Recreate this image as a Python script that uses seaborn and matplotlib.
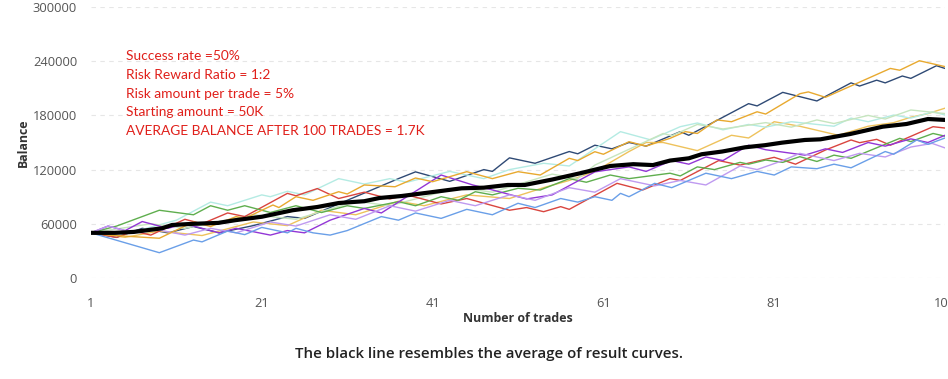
import matplotlib
matplotlib.use("Agg")
import matplotlib.pyplot as plt
import seaborn as sns
import pandas as pd

# ---------------- data ----------------
navy_t = [1, 4, 7, 10, 13, 16, 20, 24, 26, 37, 39, 43, 47, 48, 50, 53, 57, 58, 60, 62, 64, 66, 70, 71, 78, 79, 82, 86, 90, 91, 93, 94, 96, 97, 100, 101]
navy_b = [50000, 45000, 55000, 50000, 57000, 50000, 58000, 68000, 66000, 110000, 117500, 107000, 120000, 118000, 133000, 127000, 140000, 137500, 147000, 143000, 150000, 146000, 162000, 158000, 193000, 190500, 205500, 196000, 216000, 212500, 219000, 216000, 223600, 221000, 235000, 232000]

gold_t = [1, 3, 9, 13, 15, 18, 19, 22.3, 23, 25, 27, 30, 31, 33, 36.6, 39, 41, 45, 48, 51, 53.6, 57, 58, 60, 61, 64, 66, 68.8, 70.6, 72, 74.3, 76, 79, 80, 84, 85, 87, 94.6, 95.7, 98, 101]
gold_b = [50000, 47500, 44000, 62000, 57000, 68000, 66000, 80800, 78000, 90000, 86000, 95500, 93000, 103000, 101000, 110700, 106600, 117700, 110000, 117700, 114000, 132500, 130000, 139800, 137000, 150900, 146000, 154600, 162000, 160000, 175000, 173000, 184000, 181500, 204000, 206000, 200000, 232000, 230000, 240500, 234000]

gold2_t = [1, 5, 9, 14, 20, 24, 28, 32, 37, 40, 45, 50, 54, 57, 60, 64, 66, 68, 72, 76, 78, 81, 84, 88.5, 92, 95, 97, 99, 101]
gold2_b = [50000, 45000, 52000, 47000, 62000, 58000, 75000, 70000, 85000, 80000, 92000, 88000, 100000, 108000, 118000, 140000, 150000, 150000, 141000, 158000, 155000, 173000, 168000, 158000, 168000, 172000, 178000, 182000, 188000]

cyan_t = [1, 4, 11, 15, 17, 21, 22, 24, 26, 30, 33, 36, 38, 43, 47, 50, 54, 57, 63, 66.5, 70, 72, 75, 78, 80, 83, 88, 90, 92, 95, 97, 99.6, 101]
cyan_b = [50000, 46000, 64000, 84000, 80000, 92000, 90000, 96000, 92000, 110000, 104000, 110000, 106000, 118000, 110000, 120000, 127000, 124000, 162000, 153000, 167500, 171600, 164000, 170000, 167000, 173000, 168000, 177000, 173000, 180400, 177000, 184000, 180400]

lgreen_t = [1, 8, 12, 20, 25, 32, 36, 44, 48, 55, 58, 60, 68, 69, 72, 75, 80, 83, 86, 88, 92, 94, 97, 101]
lgreen_b = [50000, 60000, 55000, 70000, 65000, 85000, 80000, 100000, 95000, 115000, 110000, 125000, 160000, 157500, 170000, 165000, 172000, 167000, 175000, 171000, 180000, 176000, 186000, 182000]

red_t = [1, 4, 6, 8, 12, 14, 17, 19, 24, 25, 27.5, 30, 33, 36, 38, 42, 45, 50, 52, 54, 56, 57, 62.6, 65.6, 68.8, 70, 74.5, 77, 81, 83.5, 87, 90, 91, 93, 94.6, 99.6, 101]
red_b = [50000, 45000, 52000, 47500, 65000, 60000, 72000, 68000, 93700, 91000, 99000, 88000, 95000, 87500, 92000, 82000, 88000, 75000, 78000, 73400, 79000, 76000, 104800, 97400, 110000, 108000, 130000, 125000, 133600, 126000, 141700, 152800, 149800, 153500, 147000, 167500, 166000]

green_t = [1, 4, 9, 13, 15, 17, 19, 22, 25, 28, 31, 33, 37, 39, 42, 44, 46, 48, 51, 53.6, 57, 59, 61.8, 64, 68.8, 70, 72, 74, 77, 78, 80, 82, 84, 86, 88, 90, 95.7, 97, 99.6, 101]
green_b = [50000, 57500, 75000, 70000, 80000, 75000, 80000, 72500, 80000, 72500, 80000, 77000, 84500, 80000, 90000, 86000, 95500, 92000, 99300, 97400, 110000, 106000, 114000, 110000, 116000, 113000, 123000, 120000, 128000, 126000, 130600, 128000, 134300, 129000, 136000, 132500, 154600, 151000, 160000, 157000]

purple_t = [1, 3, 5, 7, 10, 12, 16, 18, 22, 24, 26, 29, 33, 35, 42, 45.7, 48, 52, 55, 60, 64, 66, 69, 71, 73, 75, 78, 80, 84.6, 87, 89, 92, 94, 97, 99, 101]
purple_b = [50000, 57500, 52500, 62500, 55000, 60000, 50000, 55000, 47500, 52500, 50000, 64000, 77000, 72000, 114000, 103000, 97500, 87500, 92000, 117500, 123000, 118000, 130000, 126000, 134000, 130000, 147000, 142000, 136000, 143000, 139000, 150000, 146000, 154000, 150000, 158000]

lilac_t = [1, 3, 6, 8, 12, 15, 18, 22, 25, 29, 32, 36, 39, 43, 46, 50, 53, 57, 60, 63, 67, 70, 73, 77, 79, 82, 84, 88, 91, 94, 97, 99.5, 101]
lilac_b = [50000, 57500, 50000, 55000, 47500, 55000, 50000, 62000, 57500, 70000, 65000, 80000, 74000, 86000, 80000, 92000, 86000, 100000, 95000, 110000, 102000, 108000, 103000, 124000, 120000, 130000, 138000, 130000, 138000, 134000, 145000, 149000, 144000]

blue_t = [1, 9, 13, 14, 17, 19, 21, 24, 25, 27, 29, 31, 35, 37, 39, 42, 45, 48, 51, 53, 56, 58, 60, 62, 63, 64, 67, 69, 73, 76, 79, 81, 83, 86, 88, 90, 94, 95, 97.7, 99, 101]
blue_b = [50000, 28000, 42000, 40000, 52000, 48000, 56000, 50000, 55000, 50000, 47500, 52500, 68000, 64000, 72000, 66000, 76000, 70000, 82700, 78000, 88000, 84000, 90000, 86000, 93700, 90000, 104800, 100000, 116000, 110000, 118000, 114000, 123000, 121000, 126000, 122000, 140000, 137000, 152800, 148000, 155000]

avg_t = [1, 3.8, 6, 9.3, 10.5, 13, 15.9, 17.9, 21, 24.6, 27.5, 30, 33, 34.8, 37.4, 41.3, 44.4, 47, 49.8, 51.8, 55, 58.3, 61.8, 64.5, 66.8, 68.8, 71, 72.5, 74.9, 77.6, 79.9, 81.9, 84.6, 86.4, 89.9, 93.7, 96.5, 99, 101]
avg_b = [50000, 50000, 51000, 55000, 58700, 60000, 61000, 64000, 67800, 75000, 78600, 83000, 85000, 88600, 90800, 95500, 99300, 100000, 103000, 103000, 109000, 116000, 124000, 126000, 125000, 130000, 132500, 137000, 140000, 144700, 147000, 149800, 152800, 153500, 159400, 167500, 170500, 176000, 175000]

series = {
    "navy": (navy_t, navy_b, "#2f4a75"),
    "gold2": (gold2_t, gold2_b, "#eec25c"),
    "cyan": (cyan_t, cyan_b, "#b4ebe3"),
    "lgreen": (lgreen_t, lgreen_b, "#c6e5bf"),
    "red": (red_t, red_b, "#d9453f"),
    "green": (green_t, green_b, "#5fae4e"),
    "purple": (purple_t, purple_b, "#9336d6"),
    "lilac": (lilac_t, lilac_b, "#bf9af0"),
    "blue": (blue_t, blue_b, "#6a9fe8"),
    "gold": (gold_t, gold_b, "#e8a92f"),
}

x_ticks = [1, 21, 41, 61, 81, 101]
y_ticks = [0, 60000, 120000, 180000, 240000, 300000]

notes = [
    "Success rate =50%",
    "Risk Reward Ratio = 1:2",
    "Risk amount per trade = 5%",
    "Starting amount = 50K",
    "AVERAGE BALANCE AFTER 100 TRADES = 1.7K",
]
caption = "The black line resembles the average of result curves."

# ---------------- build frame ----------------
rows = []
for name, (ts, bs, _) in series.items():
    for t, b in zip(ts, bs):
        rows.append({"trade": t, "balance": b, "series": name})
df = pd.DataFrame(rows)
palette = {k: v[2] for k, v in series.items()}
avg_df = pd.DataFrame({"trade": avg_t, "balance": avg_b})

sns.set_theme(style="white")
plt.rcParams["font.family"] = ["Open Sans", "DejaVu Sans"]

W, H = 948, 379
fig = plt.figure(figsize=(W / 100, H / 100), dpi=100)
ax = fig.add_axes([91 / W, 1 - 278 / H, 854 / W, 271 / H])

sns.lineplot(data=df, x="trade", y="balance", hue="series", palette=palette,
             estimator=None, sort=False, linewidth=1.0, legend=False, ax=ax)
sns.lineplot(data=avg_df, x="trade", y="balance", color="black",
             estimator=None, sort=False, linewidth=3.0, legend=False, ax=ax)

ax.set_xlim(1, 101)
ax.set_ylim(0, 300000)
ax.set_xticks(x_ticks)
ax.set_yticks(y_ticks)
ax.set_xticklabels([str(v) for v in x_ticks])
ax.set_yticklabels([str(v) for v in y_ticks])
ax.tick_params(axis="both", length=0, labelsize=9.3, labelcolor="#555555")
ax.tick_params(axis="x", pad=14)
ax.tick_params(axis="y", pad=10)
ax.grid(axis="y", color="#e6e6e6", linestyle=(0, (4, 4)), linewidth=0.8)
ax.grid(axis="x", visible=False)
ax.set_axisbelow(True)
for s in ax.spines.values():
    s.set_visible(False)

ax.set_xlabel("Number of trades", fontsize=8.9, fontweight="bold", color="#333333", labelpad=1)
ax.set_ylabel("Balance", fontsize=8.9, fontweight="bold", color="#333333", labelpad=2)

for i, line in enumerate(notes):
    fig.text(126 / W, 1 - (56 + i * 18.8) / H, line, color="#e0201b",
             fontsize=9.9, family=["Lato", "DejaVu Sans"], ha="left", va="center")

fig.text(489 / W, 1 - 354 / H, caption, ha="center", va="center",
         fontsize=10.8, fontweight="semibold", color="#222222")

fig.savefig("out.png", dpi=100)
